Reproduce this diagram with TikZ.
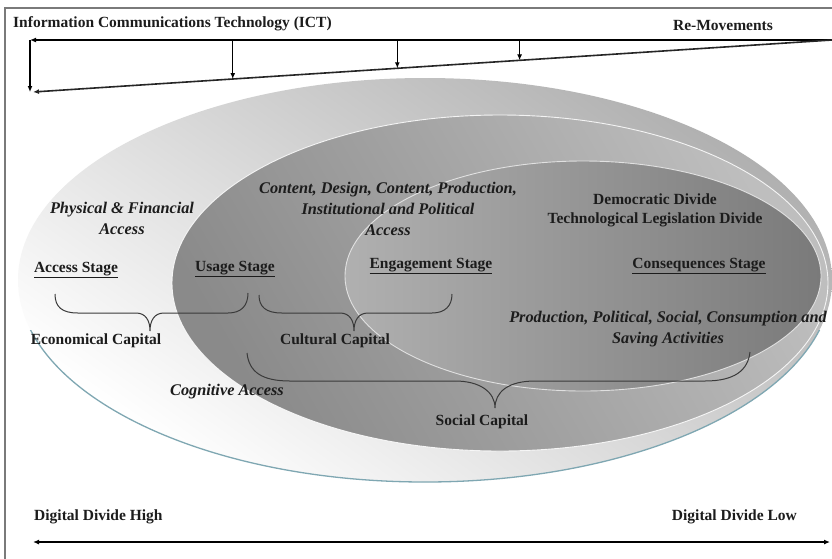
\documentclass[tikz,border=0pt]{standalone}
\usepackage{fontspec}
\setmainfont{Liberation Serif}
\usetikzlibrary{arrows.meta,calc}

\definecolor{inkc}{HTML}{1C1C1C}
\definecolor{framec}{HTML}{7A7A7A}
\definecolor{bracec}{HTML}{3A3A3A}
\definecolor{rimblue}{HTML}{7FA7B2}
\definecolor{outerTop}{HTML}{B0B0B0}
\definecolor{midLight}{HTML}{BEBEBE}
\definecolor{midDark}{HTML}{8A8A8A}
\definecolor{innLight}{HTML}{B0B0B0}
\definecolor{innDark}{HTML}{7A7A7A}

\begin{document}
\begin{tikzpicture}[x=1pt,y=-1pt,
  lbl/.style={font=\fontsize{15.5}{21}\selectfont\bfseries, text=inkc, inner sep=0pt, align=center},
  ilbl/.style={lbl, font=\fontsize{16.3}{21}\selectfont\bfseries\itshape},
  brace/.style={draw=bracec, line width=1pt},
  arr/.style={draw=black, line width=1.2pt, -{Latex[length=6pt,width=5pt]}},
  rim/.style={draw=white, line width=0.9pt, opacity=0.85}
]
\useasboundingbox (0,0) rectangle (832,558);
\fill[white] (0,0) rectangle (832,558);

% outer frame (left and top edges fall inside the page)
\draw[framec, line width=1.5pt] (5,570) -- (5,8) -- (845,8);

% ---- nested stage ellipses ----
\shade[top color=outerTop, bottom color=white, shading angle=-35]
  (425,280) ellipse [x radius=407pt, y radius=202pt];
\begin{scope}
  \clip (0,330) rectangle (832,558);
  \draw[rimblue, line width=1.3pt] (425,280) ellipse [x radius=407pt, y radius=202pt];
\end{scope}

\shade[top color=midLight, bottom color=midDark, shading angle=-60]
  (500,283) ellipse [x radius=328pt, y radius=168pt];
\draw[rim] (500,283) ellipse [x radius=328pt, y radius=168pt];

\shade[left color=innLight, right color=innDark]
  (583,276) ellipse [x radius=238pt, y radius=115pt];
\draw[rim, draw=white!85!gray] (583,276) ellipse [x radius=238pt, y radius=115pt];

% ---- ICT / re-movements arrows ----
\coordinate (tr) at (832,40);
\coordinate (tl) at (30,40);
\coordinate (bl) at (33,92);
\coordinate (vl) at (30,92);
\draw[arr] (tr) -- (tl);
\draw[arr] (tl) -- (vl);
\draw[arr, line width=1.6pt, draw=black!85] (tr) -- (bl);
\path (tr) -- (bl)
  coordinate[pos=0.750] (s1)
  coordinate[pos=0.544] (s2)
  coordinate[pos=0.391] (s3);
\coordinate (d1) at (s1 |- tr);
\coordinate (d2) at (s2 |- tr);
\coordinate (d3) at (s3 |- tr);
\draw[arr] (d1) -- (s1);
\draw[arr] (d2) -- (s2);
\draw[arr] (d3) -- (s3);

\node[lbl, anchor=west] (ict) at (13,24) {Information Communications Technology (ICT)};
\node[lbl] (remov) at (723,25) {Re-Movements};

% ---- texts inside the ellipses ----
\node[ilbl] (phys) at (122,218) {Physical \& Financial\\Access};
\node[ilbl] (content) at (388,209) {Content, Design, Content, Production,\\Institutional and Political\\Access};
\node[lbl, font=\fontsize{15.5}{19}\selectfont\bfseries] (democ) at (655,210) {Democratic Divide\\Technological Legislation Divide};

\node[lbl] (accs) at (76,270) {\underline{Access Stage}};
\node[lbl] (usage) at (235,269) {\underline{Usage Stage}};
\node[lbl] (engage) at (431,266) {\underline{Engagement Stage}};
\node[lbl] (conseq) at (699,266) {\underline{Consequences Stage}};

\node[ilbl] (prod) at (668,329) {Production, Political, Social, Consumption and\\Saving Activities};

\node[lbl] (econ) at (96,341) {Economical Capital};
\node[lbl] (cult) at (335,341) {Cultural Capital};
\node[ilbl] (cogn) at (227,392) {Cognitive Access};
\node[lbl] (social) at (482,422) {Social Capital};

% ---- braces grouping the stages ----
\coordinate (b1l) at (55,294);
\coordinate (b1t) at (150,331);
\coordinate (b1r) at (248,293);
\draw[brace] (b1l) .. controls (55,307) and (62,313) .. (78,313) -- (136,313)
  .. controls (146,313) and (150,321) .. (b1t)
  .. controls (150,321) and (154,313) .. (164,313) -- (228,313)
  .. controls (241,313) and (248,306) .. (b1r);

\coordinate (b2l) at (259,295);
\coordinate (b2t) at (354,331);
\coordinate (b2r) at (452,294);
\draw[brace] (b2l) .. controls (259,307) and (266,313) .. (282,313) -- (340,313)
  .. controls (350,313) and (354,321) .. (b2t)
  .. controls (354,321) and (358,313) .. (368,313) -- (432,313)
  .. controls (445,313) and (452,306) .. (b2r);

\coordinate (b3l) at (247,353);
\coordinate (b3t) at (495,408);
\coordinate (b3r) at (750,352);
\draw[brace] (b3l) .. controls (249,372) and (262,381) .. (290,381) -- (455,381)
  .. controls (480,381) and (495,392) .. (b3t)
  .. controls (495,392) and (508,381) .. (535,381) -- (705,381)
  .. controls (735,381) and (748,370) .. (b3r);

% ---- digital divide scale ----
\node[lbl, anchor=west] (ddh) at (34,517) {Digital Divide High};
\node[lbl, anchor=east] (ddl) at (797,517) {Digital Divide Low};
\coordinate (sl) at (33,542);
\coordinate (sr) at (830,542);
\draw[line width=1.4pt, {Latex[length=6pt,width=5pt]}-{Latex[length=6pt,width=5pt]}] (sl) -- (sr);
\end{tikzpicture}
\end{document}
